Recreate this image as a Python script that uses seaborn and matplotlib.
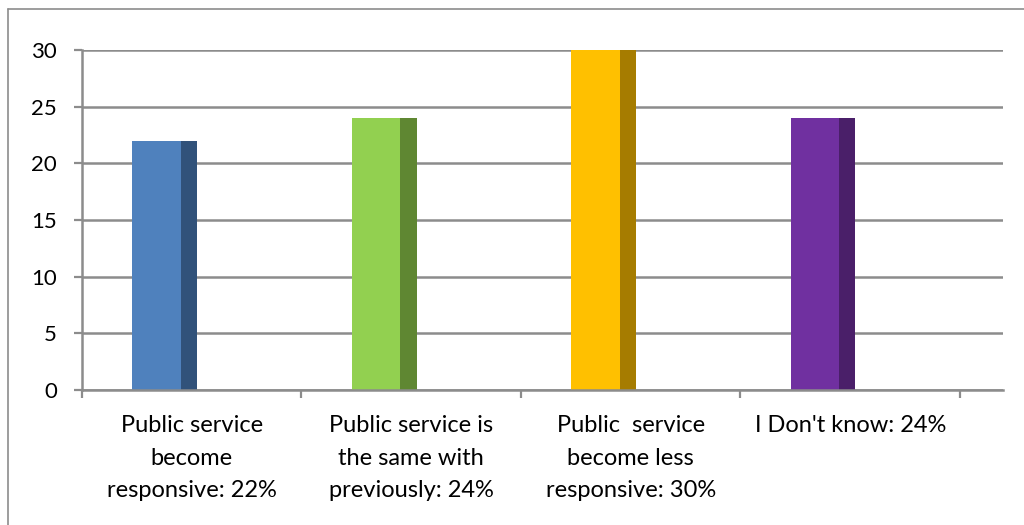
import numpy as np
import pandas as pd
import matplotlib
matplotlib.use("Agg")
import matplotlib.pyplot as plt
from matplotlib.lines import Line2D
import seaborn as sns

# Survey answers and their shares (%)
categories = [
    "Public service\nbecome\nresponsive: 22%",
    "Public service is\nthe same with\npreviously: 24%",
    "Public  service\nbecome less\nresponsive: 30%",
    "I Don't know: 24%",
]
values = [22, 24, 30, 24]
front_colors = ["#4F81BD", "#92D050", "#FFC000", "#7030A0"]
side_colors = ["#31527A", "#5F8732", "#A67C00", "#4A1F69"]
y_ticks = [0, 5, 10, 15, 20, 25, 30]

sns.set_theme(style="white")
plt.rcParams["font.family"] = ["Lato", "DejaVu Sans"]

fig = plt.figure(figsize=(10.24, 5.25), dpi=100)
ax = fig.add_axes([82 / 1024, 135 / 525, 921 / 1024, 340 / 525])

idx = np.arange(len(categories))
front_w, side_w = 0.223, 0.073
front_x = idx - 0.272 + front_w / 2
side_x = idx - 0.049 + side_w / 2

df = pd.DataFrame({"pos": front_x, "value": values, "answer": categories})

ax.set_axisbelow(True)
ax.yaxis.grid(True, color="#8C8C8C", linewidth=1.8)
ax.xaxis.grid(False)

sns.barplot(data=df, x="pos", y="value", hue="answer", palette=front_colors,
            native_scale=True, width=front_w, dodge=False, saturation=1,
            legend=False, linewidth=0, ax=ax)
# darker side face for the pseudo-3D look
ax.bar(side_x, values, width=side_w, color=side_colors, linewidth=0)

ax.set_xlim(-0.5, 3.696)
ax.set_ylim(0, 30)
ax.set_yticks(y_ticks)
ax.set_xticks(idx)
ax.set_xticklabels(categories, fontsize=17, linespacing=1.68, va="top")
ax.set_xticks(np.arange(-0.5, 4, 1.0), minor=True)
ax.set_xlabel("")
ax.set_ylabel("")

ax.tick_params(axis="x", which="major", length=0, pad=18)
ax.tick_params(axis="x", which="minor", length=6, width=1.6, color="#8C8C8C",
               direction="out", bottom=True)
ax.tick_params(axis="y", length=6, width=1.6, color="#8C8C8C", direction="out",
               left=True, pad=12, labelsize=16)
for lbl in ax.get_xticklabels() + ax.get_yticklabels():
    lbl.set_color("black")

for side in ["top", "right"]:
    ax.spines[side].set_visible(False)
for side in ["left", "bottom"]:
    ax.spines[side].set_color("#8C8C8C")
    ax.spines[side].set_linewidth(1.8)

# chart area frame
fig.add_artist(Line2D([8 / 1024, 1.0], [1 - 9 / 525, 1 - 9 / 525],
                      color="#8C8C8C", linewidth=1.2))
fig.add_artist(Line2D([8 / 1024, 8 / 1024], [0, 1 - 9 / 525],
                      color="#8C8C8C", linewidth=1.2))

fig.savefig("out.png", dpi=100)
